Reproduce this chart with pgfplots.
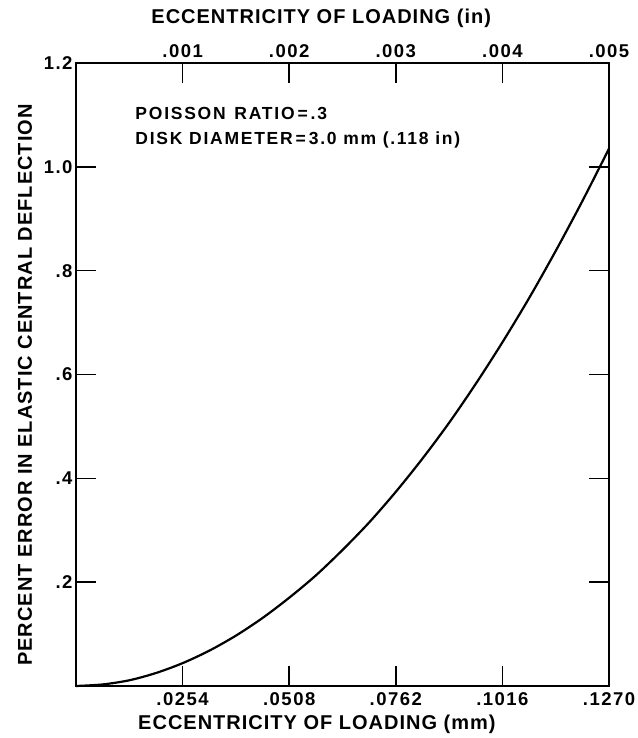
\documentclass[border=0pt]{standalone}
\usepackage{fontspec}
\setmainfont{Liberation Sans}
\newfontfamily\lbl[LetterSpace=5]{Liberation Sans Bold}
\newfontfamily\tkl[LetterSpace=8]{Liberation Sans Bold}
\newfontfamily\note[LetterSpace=10]{Liberation Sans Bold}
\usepackage{pgfplots}
\pgfplotsset{compat=1.18}

% percent error vs eccentricity (mm)
\pgfplotstableread{
x        y
0.00000  0.000
0.00635  0.003
0.01270  0.011
0.01905  0.025
0.02540  0.044
0.03175  0.068
0.03810  0.097
0.04445  0.131
0.05080  0.170
0.05715  0.213
0.06350  0.262
0.06985  0.315
0.07620  0.374
0.08255  0.438
0.08890  0.507
0.09525  0.582
0.10160  0.662
0.10795  0.747
0.11430  0.838
0.12065  0.934
0.12700  1.035
}\errdata

\pgfplotsset{
  chartbox/.style={
    scale only axis,
    width=533pt, height=623pt,
    tick align=inside,
    major tick length=20pt,
    axis line style={line width=2pt},
    tick style={line width=1.5pt, black},
    tick label style={font=\tkl\fontsize{18.5}{20}\selectfont},
    label style={font=\lbl\fontsize{20}{24}\selectfont},
  }
}

\begin{document}
\begin{tikzpicture}
  \begin{axis}[
    chartbox,
    xmin=0, xmax=0.127,
    ymin=0, ymax=1.2,
    xtick={0.0254,0.0508,0.0762,0.1016,0.127},
    xticklabels={.0254,.0508,.0762,.1016,.1270},
    ytick={0.2,0.4,0.6,0.8,1.0,1.2},
    yticklabels={.2,.4,.6,.8,1.0,1.2},
    xtick pos=bottom, ytick pos=both, yticklabel pos=left,
    xticklabel style={yshift=-3pt},
    xlabel={ECCENTRICITY OF LOADING (mm)},
    ylabel={PERCENT ERROR IN ELASTIC CENTRAL DEFLECTION},
    xlabel style={at={(axis description cs:0.452,-0.061)}, anchor=center},
    ylabel style={at={(axis description cs:-0.0957,0.483)}, anchor=center},
    clip=false,
  ]
    \addplot[black, line width=2.2pt, smooth] table[x=x, y=y] {\errdata};
    \node[anchor=west, align=left, font=\note\fontsize{17.5}{25}\selectfont]
      at (axis description cs:0.105,0.896)
      {POISSON\enspace RATIO\,=\,.3\\DISK DIAMETER\,=\,3.0 mm (.118 in)};
  \end{axis}
  \begin{axis}[
    chartbox,
    xmin=0, xmax=0.005,
    ymin=0, ymax=1,
    axis x line*=top,
    hide y axis,
    scaled x ticks=false,
    xtick={0.001,0.002,0.003,0.004,0.005},
    xticklabels={.001,.002,.003,.004,.005},
    xticklabel style={yshift=2pt},
    xlabel={ECCENTRICITY OF LOADING (in)},
    xlabel style={at={(axis description cs:0.46,1.0714)}, anchor=center},
  ]
  \end{axis}
  \pgfresetboundingbox
  \path[use as bounding box] (-76pt,-52pt) rectangle (561pt,686pt);
\end{tikzpicture}
\end{document}
